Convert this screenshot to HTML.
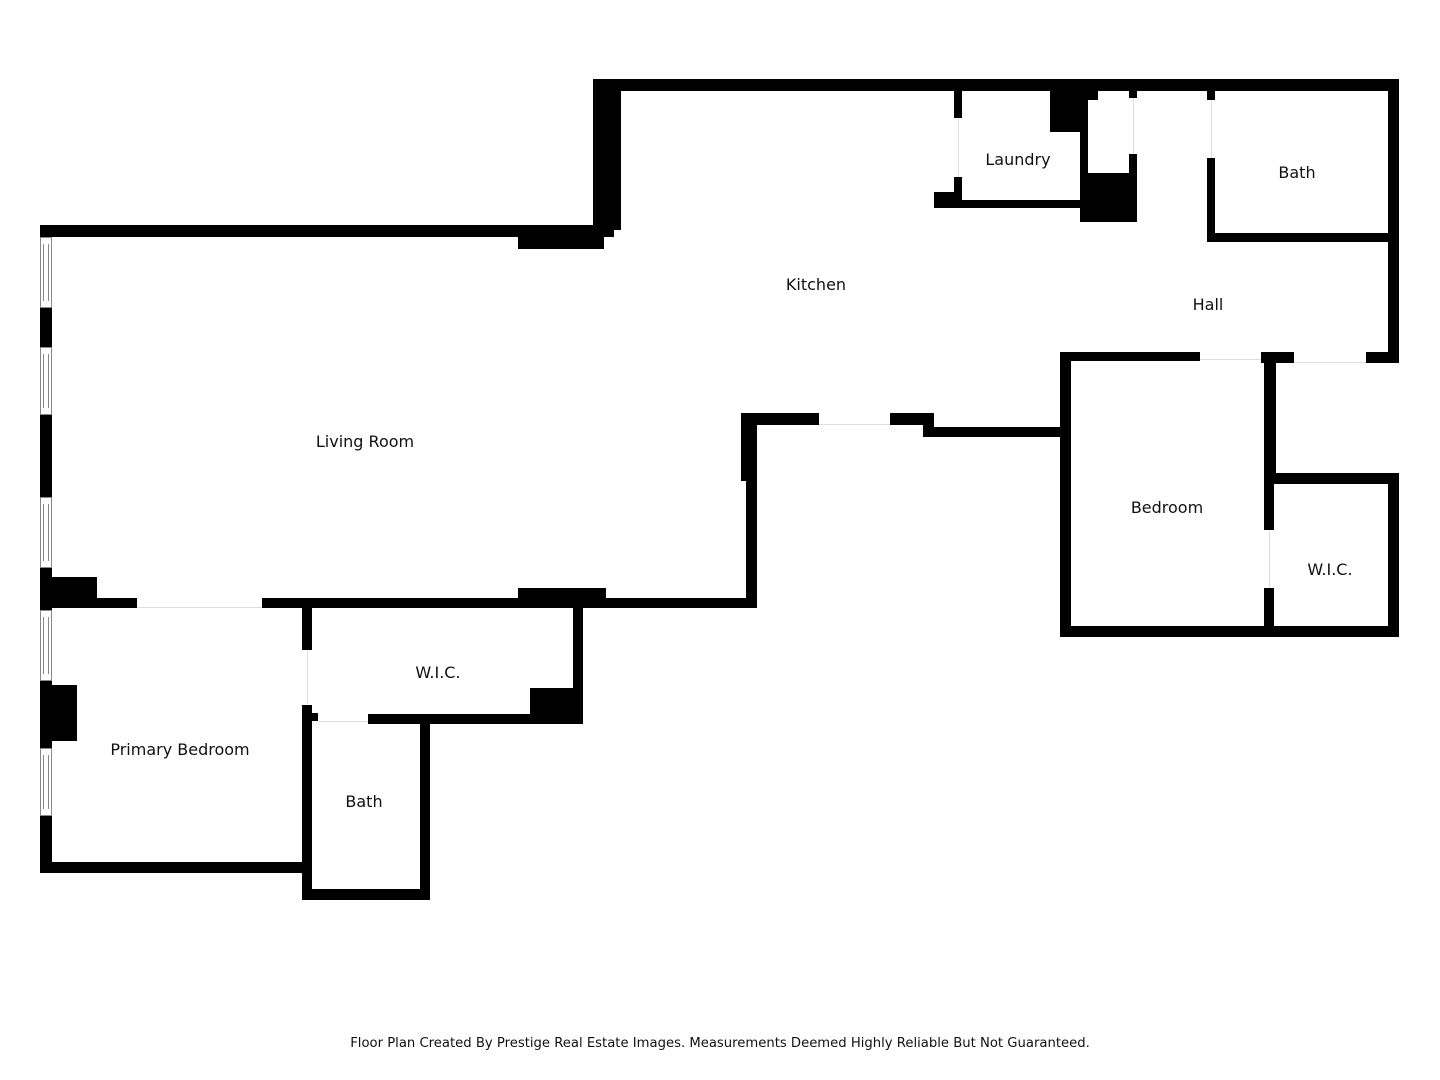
<!DOCTYPE html>
<html><head><meta charset="utf-8"><style>
html,body{margin:0;padding:0;background:#fff;}
svg{display:block}
text{font-family:"DejaVu Sans","Liberation Sans",sans-serif;fill:#111;}
</style></head><body>
<svg width="1440" height="1080" viewBox="0 0 1440 1080" xmlns="http://www.w3.org/2000/svg">
<rect width="1440" height="1080" fill="#fff"/>
<g fill="#000">
<rect x="593" y="79" width="806" height="12"/>
<rect x="593" y="79" width="28" height="151"/>
<rect x="604" y="229" width="10" height="8"/>
<rect x="40" y="225" width="570" height="12"/>
<rect x="518" y="236" width="86" height="13"/>
<rect x="40" y="225" width="12" height="648"/>
<rect x="40" y="577" width="57" height="31"/>
<rect x="40" y="685" width="37" height="56"/>
<rect x="52" y="598" width="85" height="10"/>
<rect x="262" y="598" width="495" height="10"/>
<rect x="518" y="588" width="88" height="20"/>
<rect x="573" y="598" width="10" height="126"/>
<rect x="368" y="714" width="215" height="10"/>
<rect x="530" y="688" width="53" height="36"/>
<rect x="302" y="598" width="10" height="52"/>
<rect x="302" y="705" width="10" height="195"/>
<rect x="312" y="713" width="6" height="8"/>
<rect x="302" y="889" width="128" height="11"/>
<rect x="420" y="714" width="10" height="186"/>
<rect x="40" y="862" width="272" height="11"/>
<rect x="741" y="413" width="16" height="68"/>
<rect x="746" y="413" width="11" height="195"/>
<rect x="741" y="413" width="78" height="12"/>
<rect x="890" y="413" width="44" height="12"/>
<rect x="923" y="413" width="11" height="24"/>
<rect x="923" y="427" width="140" height="10"/>
<rect x="1060" y="352" width="11" height="285"/>
<rect x="1060" y="352" width="140" height="9"/>
<rect x="1261" y="352" width="33" height="11"/>
<rect x="1366" y="352" width="33" height="11"/>
<rect x="1264" y="352" width="12" height="121"/>
<rect x="1264" y="352" width="10" height="178"/>
<rect x="1264" y="588" width="10" height="49"/>
<rect x="1264" y="473" width="135" height="11"/>
<rect x="1388" y="473" width="11" height="164"/>
<rect x="1060" y="626" width="339" height="11"/>
<rect x="1388" y="79" width="11" height="284"/>
<rect x="1207" y="91" width="8" height="9"/>
<rect x="1207" y="158" width="8" height="84"/>
<rect x="1207" y="233" width="192" height="9"/>
<rect x="954" y="91" width="8" height="27"/>
<rect x="954" y="177" width="8" height="31"/>
<rect x="934" y="192" width="28" height="16"/>
<rect x="934" y="200" width="150" height="8"/>
<rect x="1050" y="91" width="33" height="41"/>
<rect x="1050" y="91" width="48" height="9"/>
<rect x="1080" y="91" width="8" height="131"/>
<rect x="1080" y="173" width="57" height="49"/>
<rect x="1129" y="91" width="8" height="7"/>
<rect x="1129" y="154" width="8" height="68"/>
</g>
<g fill="#fff" stroke="#888" stroke-width="1">
<rect x="40.5" y="237.5" width="11" height="70"/>
<rect x="40.5" y="347.5" width="11" height="67"/>
<rect x="40.5" y="497.5" width="11" height="70"/>
<rect x="40.5" y="610.5" width="11" height="70"/>
<rect x="40.5" y="748.5" width="11" height="67"/>
</g>
<g stroke="#888" stroke-width="1">
<line x1="43.5" y1="244" x2="43.5" y2="301"/><line x1="48.5" y1="244" x2="48.5" y2="301"/>
<line x1="43.5" y1="354" x2="43.5" y2="408"/><line x1="48.5" y1="354" x2="48.5" y2="408"/>
<line x1="43.5" y1="504" x2="43.5" y2="561"/><line x1="48.5" y1="504" x2="48.5" y2="561"/>
<line x1="43.5" y1="617" x2="43.5" y2="674"/><line x1="48.5" y1="617" x2="48.5" y2="674"/>
<line x1="43.5" y1="755" x2="43.5" y2="809"/><line x1="48.5" y1="755" x2="48.5" y2="809"/>
</g>
<g stroke="#ddd" stroke-width="1">
<line x1="137" y1="607.5" x2="262" y2="607.5"/>
<line x1="819" y1="424.5" x2="890" y2="424.5"/>
<line x1="1200" y1="359.5" x2="1261" y2="359.5"/>
<line x1="1294" y1="362.5" x2="1366" y2="362.5"/>
<line x1="318" y1="721.5" x2="368" y2="721.5"/>
<line x1="958.5" y1="118" x2="958.5" y2="177"/>
<line x1="1211.5" y1="100" x2="1211.5" y2="158"/>
<line x1="1133.5" y1="98" x2="1133.5" y2="154"/>
<line x1="307.5" y1="650" x2="307.5" y2="705"/>
<line x1="1269.5" y1="530" x2="1269.5" y2="588"/>
</g>
<g font-size="16" text-anchor="middle">
<text x="816" y="290">Kitchen</text>
<text x="1018" y="165">Laundry</text>
<text x="1297" y="178">Bath</text>
<text x="1208" y="310">Hall</text>
<text x="365" y="447">Living Room</text>
<text x="1167" y="513">Bedroom</text>
<text x="1330" y="575">W.I.C.</text>
<text x="438" y="678">W.I.C.</text>
<text x="180" y="755">Primary Bedroom</text>
<text x="364" y="807">Bath</text>
</g>
<text x="720" y="1047" font-size="13.2" text-anchor="middle">Floor Plan Created By Prestige Real Estate Images. Measurements Deemed Highly Reliable But Not Guaranteed.</text>
</svg>
</body></html>
